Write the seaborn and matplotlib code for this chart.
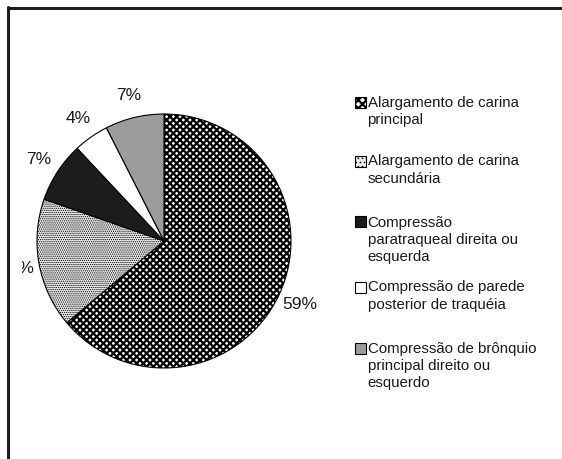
import matplotlib
matplotlib.use("Agg")
import matplotlib.pyplot as plt
import seaborn as sns
from matplotlib.patches import Rectangle
from matplotlib.lines import Line2D

# ---- data ----
categories = [
    "Alargamento de carina\nprincipal",
    "Alargamento de carina\nsecundária",
    "Compressão\nparatraqueal direita ou\nesquerda",
    "Compressão de parede\nposterior de traquéia",
    "Compressão de brônquio\nprincipal direito ou\nesquerdo",
]
values = [64.0, 16.5, 7.7, 4.5, 7.5]          # slice sizes as drawn
pct_labels = ["59%", "16%", "7%", "4%", "7%"]  # label texts as printed

# ---- styles ----
face_colors = ["white", "#ebebeb", "#1c1c1c", "white", "#9c9c9c"]
hatches = ["xxxxx", "........", None, None, None]

sns.set_theme(style="white")
plt.rcParams["font.family"] = ["Liberation Sans", "DejaVu Sans"]
plt.rcParams["hatch.linewidth"] = 1.6
plt.rcParams["hatch.color"] = "black"

W, H = 562, 459
fig = plt.figure(figsize=(W / 100, H / 100), dpi=100)
fig.patch.set_facecolor("white")

def fx(px):
    return px / W

def fy(py):
    return 1 - py / H

# pie axes: 127 px per data unit, center at (164, 241) px
R = 127.0
ax = fig.add_axes([fx(22), 19 / H, 308 / W, 400 / H])
ax.axis("off")

wedges, texts = ax.pie(
    values,
    labels=pct_labels,
    startangle=90,
    counterclock=False,
    radius=1.0,
    labeldistance=1.18,
    colors=face_colors,
    wedgeprops=dict(edgecolor="black", linewidth=0.8),
    textprops=dict(fontsize=12.5, color="#1a1a1a"),
)
ax.set_xlim(-(164 - 22) / R, (330 - 164) / R)
ax.set_ylim(-(440 - 241) / R, (241 - 40) / R)
ax.set_aspect("auto")

for w, h in zip(wedges, hatches):
    if h:
        w.set_hatch(h)
for t in texts:
    t.set_horizontalalignment("center")
    t.set_verticalalignment("center")
    t.set_clip_on(True)
try:
    wedges[1].set_hatch_linewidth(0.6)
except Exception:
    pass

# ---- legend (manual, to match multi-line layout) ----
first_line_centers = [102, 161, 222, 287, 348]
for lab, yc, fc, h in zip(categories, first_line_centers, face_colors, hatches):
    rect = Rectangle((fx(355), fy(yc + 5.5)), 11 / W, 11 / H,
                     transform=fig.transFigure, facecolor=fc,
                     edgecolor="black", linewidth=0.8,
                     hatch=(h[:4] if h else None))
    try:
        if h and h.startswith("."):
            rect.set_hatch_linewidth(0.6)
    except Exception:
        pass
    fig.add_artist(rect)
    fig.text(fx(367.5), fy(yc - 6.5), lab, ha="left", va="top",
             fontsize=10.8, color="#1a1a1a", linespacing=1.3)

# ---- frame (top and left edges) ----
fig.add_artist(Line2D([fx(8), 1.0], [fy(8), fy(8)], transform=fig.transFigure,
                      color="#1e1e1e", linewidth=2.2))
fig.add_artist(Line2D([fx(8), fx(8)], [fy(7), 0.0], transform=fig.transFigure,
                      color="#1e1e1e", linewidth=2.2))

fig.savefig("out.png", dpi=100, facecolor="white")
